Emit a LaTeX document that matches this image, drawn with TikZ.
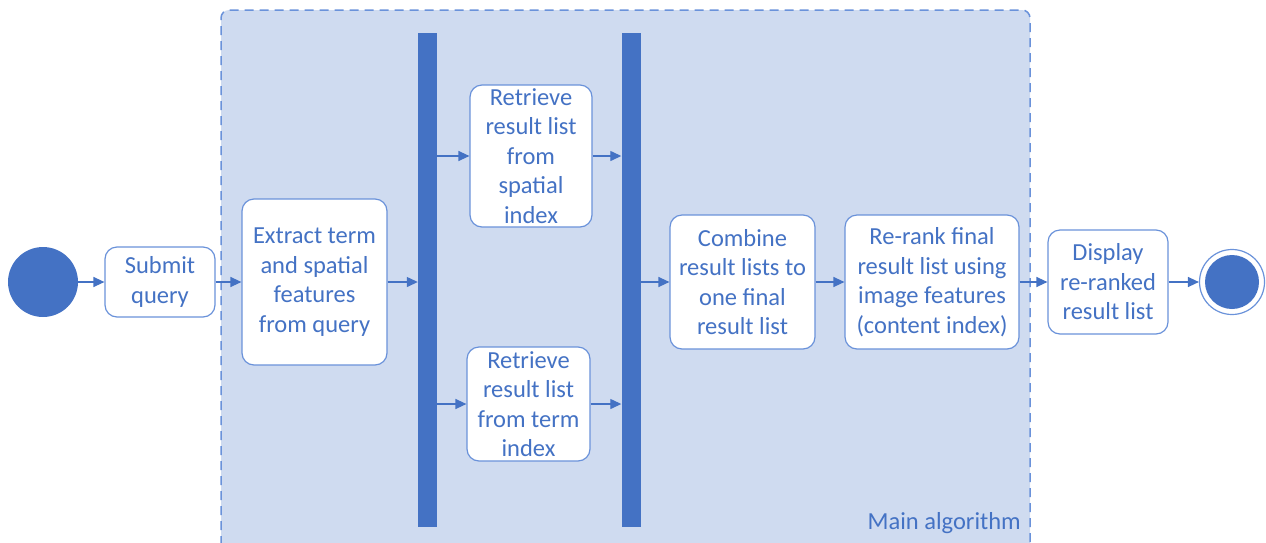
\documentclass[tikz,border=0pt]{standalone}
\usepackage{fontspec}
\setmainfont{Carlito}
\usetikzlibrary{arrows.meta}
\definecolor{accent}{HTML}{4472C4}
\definecolor{edgeblue}{HTML}{6A92DA}
\definecolor{regionfill}{HTML}{CFDBF0}
\tikzset{
  actbox/.style={draw=edgeblue, line width=1.2pt, fill=white, rounded corners=12pt,
    text=accent, align=center, inner sep=1pt,
    font=\fontsize{24.5}{29.5}\selectfont},
  forkbar/.style={fill=accent, draw=none, minimum width=19pt, minimum height=494pt, inner sep=0pt},
  flow/.style={draw=accent, line width=1.3pt, -{Triangle[length=11pt,width=10pt]}},
}
\begin{document}
\begin{tikzpicture}[x=1pt,y=-1pt]
\useasboundingbox (0,0) rectangle (1266,542);
% main algorithm region
\draw[fill=regionfill, draw=edgeblue, line width=1.5pt, dash pattern=on 9pt off 6pt, rounded corners=8pt]
  (221,560) -- (221,10) -- (1030,10) -- (1030,560);
\node[anchor=base east, text=accent, font=\fontsize{24.5}{29}\selectfont, inner sep=0pt] (lbl) at (1021,529) {Main algorithm};

% start and end states
\node[circle, fill=accent, minimum size=70pt, inner sep=0pt] (start) at (43,282) {};
\node[circle, draw=edgeblue, line width=1.2pt, fill=white, minimum size=65pt, inner sep=0pt] (endo) at (1232,282) {};
\node[circle, fill=accent, minimum size=54pt, inner sep=0pt] (endi) at (1232,282) {};

% activities
\node[actbox, minimum width=110pt, minimum height=70pt] (submit) at (160,282) {Submit\\query};
\node[actbox, minimum width=145pt, minimum height=166pt] (extract) at (314.5,282) {Extract term\\and spatial\\features\\from query};
\node[forkbar] (bar1) at (427.5,280) {};
\node[actbox, minimum width=122pt, minimum height=142pt] (spatial) at (531,156) {Retrieve\\result list\\from\\spatial\\index};
\node[actbox, minimum width=123pt, minimum height=114pt] (term) at (528.5,404) {Retrieve\\result list\\from term\\index};
\node[forkbar] (bar2) at (631,280) {};
\node[actbox, minimum width=145pt, minimum height=134pt] (combine) at (742.5,282) {Combine\\result lists to\\one final\\result list};
\node[actbox, minimum width=174pt, minimum height=134pt] (rerank) at (932,282) {Re-rank final\\result list using\\image features\\(content index)};
\node[actbox, minimum width=120pt, minimum height=104pt] (display) at (1108,282) {Display\\re-ranked\\result list};

% control flow
\draw[flow] (start) -- (submit);
\draw[flow] (submit) -- (extract);
\draw[flow] (extract.east) -- (extract.east -| bar1.west);
\draw[flow] (bar1.east |- spatial.west) -- (spatial.west);
\draw[flow] (bar1.east |- term.west) -- (term.west);
\draw[flow] (spatial.east) -- (spatial.east -| bar2.west);
\draw[flow] (term.east) -- (term.east -| bar2.west);
\draw[flow] (bar2.east |- combine.west) -- (combine.west);
\draw[flow] (combine) -- (rerank);
\draw[flow] (rerank) -- (display);
\draw[flow] (display) -- (endo);
\end{tikzpicture}
\end{document}
